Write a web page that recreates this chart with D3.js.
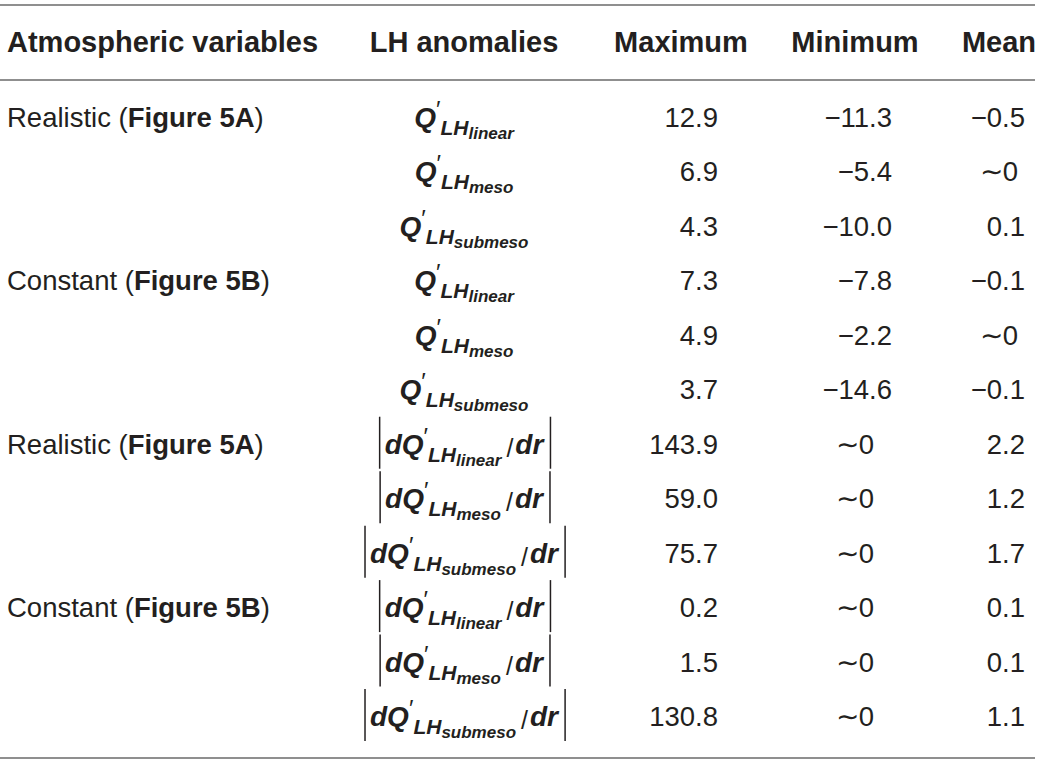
<!DOCTYPE html>
<html>
<head>
<meta charset="utf-8">
<script src="https://cdn.jsdelivr.net/npm/d3@7"></script>
<style>
  body { margin: 0; background: #fff; }
  svg { display: block; }
  text { font-family: "Liberation Sans", Arial, Helvetica, sans-serif; fill: #231f20; }
</style>
</head>
<body>
<div id="chart"></div>
<script>
"use strict";

var headers = ['Atmospheric variables', 'LH anomalies', 'Maximum', 'Minimum', 'Mean'];
var conditions = ['Realistic', 'Constant', 'Realistic', 'Constant'];
var figureRefs = ['Figure 5A', 'Figure 5B', 'Figure 5A', 'Figure 5B'];
var anomalyKinds = ['Q', 'Q', 'dQdr', 'dQdr'];
var scaleNames = ['linear', 'meso', 'submeso'];

// null = "~0" in the table
var maximum = [12.9, 6.9, 4.3, 7.3, 4.9, 3.7, 143.9, 59.0, 75.7, 0.2, 1.5, 130.8];
var minimum = [-11.3, -5.4, -10.0, -7.8, -2.2, -14.6, null, null, null, null, null, null];
var mean = [-0.5, null, 0.1, -0.1, null, -0.1, 2.2, 1.2, 1.7, 0.1, 0.1, 1.1];

var WIDTH = 1042;
var HEIGHT = 764;
var BODY_SIZE = 27.5;
var HEAD_SIZE = 29;
var RULE_COLOR = '#8f8f8f';

var rows = d3.range(maximum.length).map(function (i) {
  var g = Math.floor(i / scaleNames.length);
  return {
    index: i,
    first: i % scaleNames.length === 0,
    condition: conditions[g],
    figure: figureRefs[g],
    kind: anomalyKinds[g],
    scale: scaleNames[i % scaleNames.length],
    values: [maximum[i], minimum[i], mean[i]]
  };
});

var valueCols = headers.slice(2);

// row baselines
var y = d3.scalePoint().domain(d3.range(rows.length)).range([127, 726]);
// header anchors (first one is left edge, the rest are centres)
var headerX = d3.scaleOrdinal().domain(headers).range([7, 464, 681, 855, 999]);
// numbers are right aligned in their column
var valueRight = d3.scaleOrdinal().domain(valueCols).range([718, 892, 1025]);
var fmt = d3.format('.1f');

var svg = d3.select('#chart').append('svg')
  .attr('width', WIDTH)
  .attr('height', HEIGHT)
  .attr('viewBox', '0 0 ' + WIDTH + ' ' + HEIGHT);

// horizontal rules
svg.selectAll('line.rule')
  .data([5, 80, 758])
  .enter().append('line')
  .attr('class', 'rule')
  .attr('x1', 0)
  .attr('x2', 1035)
  .attr('y1', function (d) { return d; })
  .attr('y2', function (d) { return d; })
  .attr('stroke', RULE_COLOR)
  .attr('stroke-width', 2);

// header row
svg.selectAll('text.header')
  .data(headers)
  .enter().append('text')
  .attr('class', 'header')
  .attr('x', function (d) { return headerX(d); })
  .attr('y', 52)
  .attr('text-anchor', function (d, i) { return i === 0 ? 'start' : 'middle'; })
  .attr('font-size', HEAD_SIZE)
  .attr('font-weight', 'bold')
  .text(function (d) { return d; });

// first column: condition (Figure ref)
var cond = svg.selectAll('text.condition')
  .data(rows.filter(function (d) { return d.first; }))
  .enter().append('text')
  .attr('class', 'condition')
  .attr('x', headerX(headers[0]))
  .attr('y', function (d) { return y(d.index); })
  .attr('font-size', BODY_SIZE);
cond.append('tspan').text(function (d) { return d.condition + ' ('; });
cond.append('tspan').attr('font-weight', 'bold').text(function (d) { return d.figure; });
cond.append('tspan').text(')');

// second column: the anomaly expressions
function boldItalic(sel, size) {
  return sel.attr('font-weight', 'bold').attr('font-style', 'italic').attr('font-size', size);
}

var expr = svg.selectAll('g.expr')
  .data(rows)
  .enter().append('g')
  .attr('class', 'expr');

expr.each(function (d) {
  var g = d3.select(this);
  var base = y(d.index);
  var t = g.append('text')
    .attr('x', headerX(headers[1]))
    .attr('y', base)
    .attr('text-anchor', 'middle');
  if (d.kind === 'dQdr') boldItalic(t.append('tspan'), 28).text('d');
  boldItalic(t.append('tspan'), 28).text('Q');
  t.append('tspan').attr('font-size', 24).attr('dy', -9).text('\u2032');
  boldItalic(t.append('tspan'), 21).attr('dy', 17).text('LH');
  boldItalic(t.append('tspan'), 17).attr('dy', 4).text(d.scale);
  if (d.kind === 'dQdr') {
    t.append('tspan').attr('font-size', 25).attr('dy', -9).attr('dx', 5).text('/');
    boldItalic(t.append('tspan'), 28).attr('dy', -3).attr('dx', 2).text('dr');

    // absolute value bars around the fraction
    var box = t.node().getBBox();
    g.selectAll('line')
      .data([box.x - 5, box.x + box.width + 5])
      .enter().append('line')
      .attr('x1', function (x) { return x; })
      .attr('x2', function (x) { return x; })
      .attr('y1', base - 37)
      .attr('y2', base + 15)
      .attr('stroke', '#231f20')
      .attr('stroke-width', 1.5);
  }
});

// value columns
rows.forEach(function (row) {
  svg.selectAll('text.v' + row.index)
    .data(row.values)
    .enter().append('text')
    .attr('class', 'value v' + row.index)
    .attr('x', function (v, j) { return v === null ? headerX(valueCols[j]) : valueRight(valueCols[j]); })
    .attr('y', y(row.index))
    .attr('text-anchor', function (v) { return v === null ? 'middle' : 'end'; })
    .attr('font-size', BODY_SIZE)
    .text(function (v) { return v === null ? '\u223c0' : fmt(v); });
});
</script>
</body>
</html>
